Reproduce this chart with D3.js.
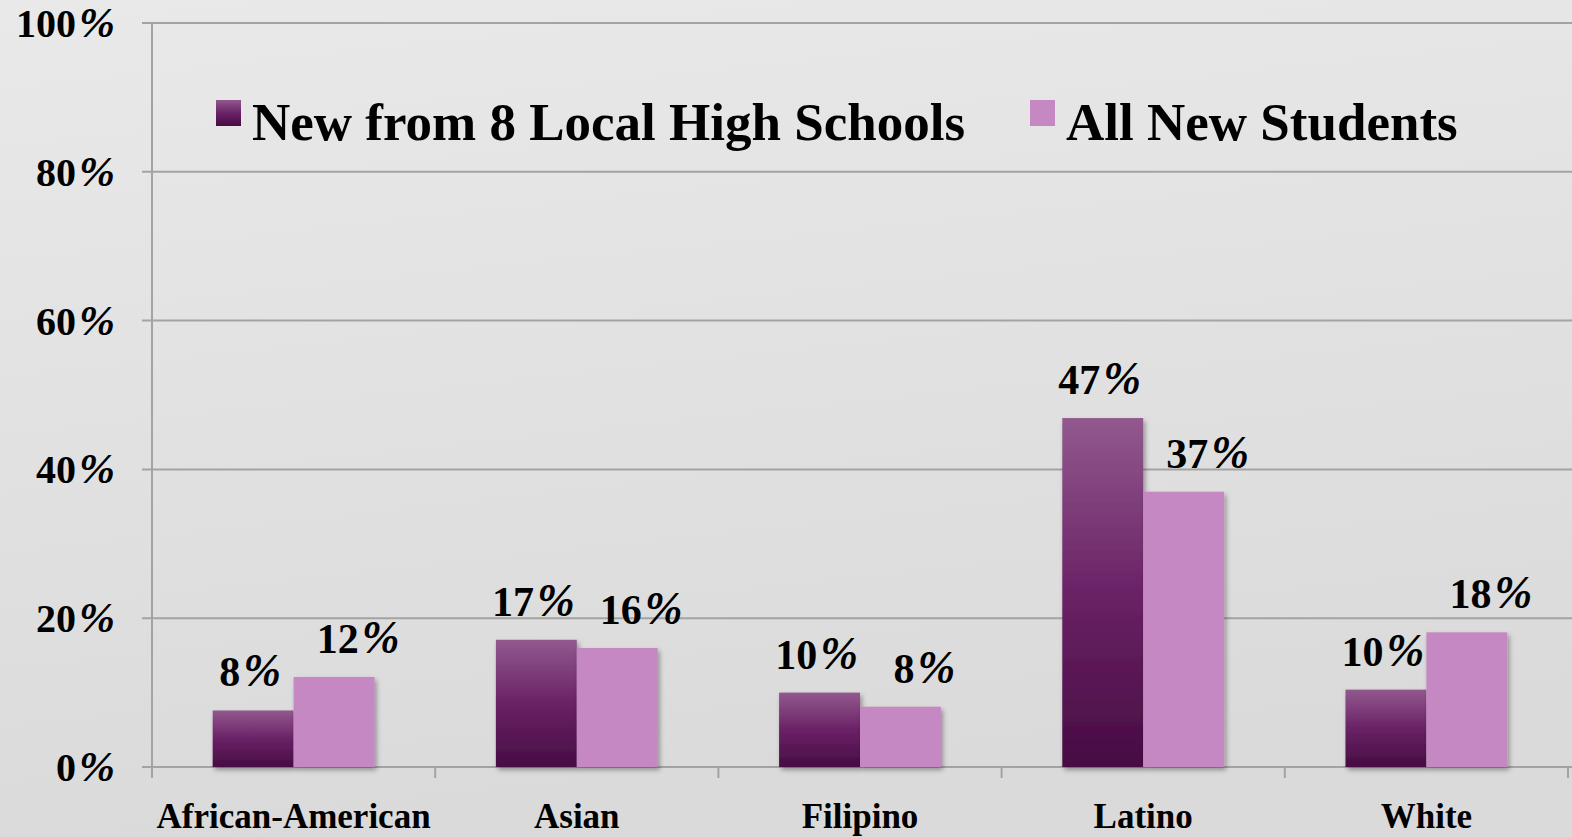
<!DOCTYPE html>
<html><head><meta charset="utf-8">
<script src="https://cdn.jsdelivr.net/npm/d3@7"></script>
<style>html,body{margin:0;padding:0;overflow:hidden}svg{display:block}</style>
</head><body>
<script>
const categories = ["African-American", "Asian", "Filipino", "Latino", "White"];
const seriesNames = ["New from 8 Local High Schools", "All New Students"];
const localValues = [7.6, 17.1, 10.0, 46.9, 10.4];
const allValues = [12.1, 16.0, 8.1, 37.0, 18.1];
const yTicks = [0, 20, 40, 60, 80, 100];

const W = 1572, H = 837;
const m = {left: 152, right: 4, top: 23, bottom: 70};
const svg = d3.select("body").append("svg").attr("width", W).attr("height", H);
const defs = svg.append("defs");
const bg = defs.append("linearGradient").attr("id", "bg").attr("x1", 0).attr("y1", 0).attr("x2", 0.2).attr("y2", 1);
bg.append("stop").attr("offset", "0%").attr("stop-color", "#e9e9e9");
bg.append("stop").attr("offset", "100%").attr("stop-color", "#dadada");
const dg = defs.append("linearGradient").attr("id", "dark").attr("x1", 0).attr("y1", 0).attr("x2", 0).attr("y2", 1);
dg.append("stop").attr("offset", "0%").attr("stop-color", "#92598e");
dg.append("stop").attr("offset", "50%").attr("stop-color", "#6a2266");
dg.append("stop").attr("offset", "100%").attr("stop-color", "#470c43");
const sh = defs.append("filter").attr("id", "sh").attr("x", "-10%").attr("y", "-10%").attr("width", "130%").attr("height", "130%");
sh.append("feDropShadow").attr("dx", 2).attr("dy", 3).attr("stdDeviation", 2.5).attr("flood-color", "#000").attr("flood-opacity", 0.35);

svg.append("rect").attr("width", W).attr("height", H).attr("fill", "url(#bg)");

const x = d3.scaleBand().domain(categories).range([m.left, W - m.right]).paddingInner(0).paddingOuter(0);
const y = d3.scaleLinear().domain([0, 100]).range([H - m.bottom, m.top]);
const inner = d3.scaleBand().domain([0, 1]).range([0, x.bandwidth()]).paddingOuter(0.75).paddingInner(0);

const font = "'Liberation Serif', 'Times New Roman', serif";

function pct(sel, num) {
  sel.append("tspan").text(num);
  sel.append("tspan").attr("dx", 3).attr("font-style", "italic").attr("font-size", "1.08em").text("%");
}

// gridlines
svg.append("g").selectAll("line").data(yTicks).join("line")
  .attr("x1", m.left - 10).attr("x2", W).attr("y1", d => y(d)).attr("y2", d => y(d))
  .attr("stroke", "#a3a3a3").attr("stroke-width", 2);
// y axis line
svg.append("line").attr("x1", m.left).attr("x2", m.left).attr("y1", y(100)).attr("y2", y(0) + 11)
  .attr("stroke", "#a3a3a3").attr("stroke-width", 2);
// category ticks
svg.append("g").selectAll("line").data(categories).join("line")
  .attr("x1", d => x(d) + x.bandwidth()).attr("x2", d => x(d) + x.bandwidth())
  .attr("y1", y(0)).attr("y2", y(0) + 11).attr("stroke", "#a3a3a3").attr("stroke-width", 2);

// y tick labels
svg.append("g").selectAll("text").data(yTicks).join("text")
  .attr("x", 115).attr("y", d => y(d) + 14).attr("text-anchor", "end")
  .attr("font-family", font).attr("font-weight", "bold").attr("font-size", 40)
  .each(function(d) { pct(d3.select(this), d); });

// category labels
svg.append("g").selectAll("text").data(categories).join("text")
  .attr("x", d => x(d) + x.bandwidth() / 2).attr("y", 828).attr("text-anchor", "middle")
  .attr("font-family", font).attr("font-weight", "bold").attr("font-size", 35)
  .text(d => d);

const series = [
  {name: seriesNames[0], values: localValues, fill: "url(#dark)", dx: -3},
  {name: seriesNames[1], values: allValues, fill: "#c588c3", dx: 24}
];

// bars
series.forEach((s, i) => {
  svg.append("g").attr("filter", "url(#sh)").selectAll("rect").data(categories).join("rect")
    .attr("x", c => x(c) + inner(i)).attr("width", inner.bandwidth())
    .attr("y", (c, j) => y(s.values[j])).attr("height", (c, j) => y(0) - y(s.values[j]))
    .attr("fill", s.fill);
});
// labels
series.forEach((s, i) => {
  svg.append("g").selectAll("text").data(categories).join("text")
    .attr("x", c => x(c) + inner(i) + inner.bandwidth() / 2 + s.dx)
    .attr("y", (c, j) => y(s.values[j]) - 24).attr("text-anchor", "middle")
    .attr("font-family", font).attr("font-weight", "bold").attr("font-size", 42)
    .each(function(c, j) { pct(d3.select(this), Math.round(s.values[j])); });
});

// legend
const legendX = [216, 1030];
series.forEach((s, i) => {
  svg.append("rect").attr("x", legendX[i]).attr("y", 100).attr("width", 25).attr("height", 26).attr("fill", s.fill);
  svg.append("text").attr("x", legendX[i] + 36).attr("y", 140)
    .attr("font-family", font).attr("font-weight", "bold").attr("font-size", 53)
    .text(s.name);
});
</script>
</body></html>
